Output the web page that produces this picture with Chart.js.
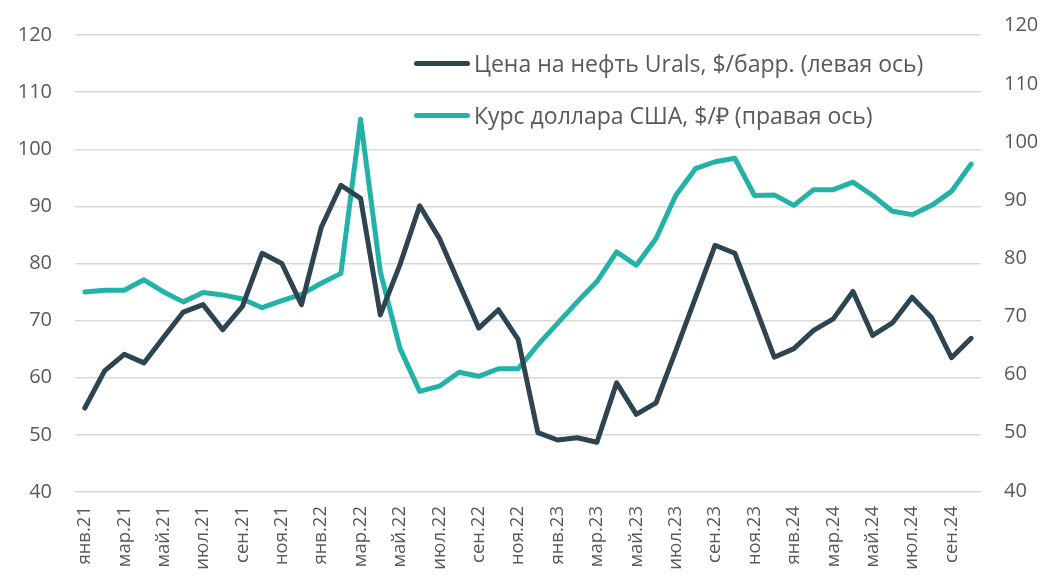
<!DOCTYPE html>
<html lang="ru">
<head>
<meta charset="utf-8">
<script src="https://cdn.jsdelivr.net/npm/chart.js@4.4.1/dist/chart.umd.min.js"></script>
<style>
    body { margin: 0; background: #fff; }
    #wrap { position: relative; width: 1044px; height: 579px; }
    .legend { position: absolute; left: 414px; font-family: "Open Sans", "Liberation Sans", sans-serif; font-size: 23px; color: #595959; display: flex; align-items: center; white-space: nowrap; line-height: 30px; }
    .legend span.sw { display: inline-block; width: 56px; height: 5px; border-radius: 3px; margin-right: 4px; }
</style>
</head>
<body>
<div id="wrap">
    <canvas id="chart" width="1044" height="579"></canvas>
    <div class="legend" style="top: 48px;"><span class="sw" style="background:#2E4450"></span>Цена на нефть Urals, $/барр. (левая ось)</div>
    <div class="legend" style="top: 100px;"><span class="sw" style="background:#22B2A8"></span>Курс доллара США, $/₽ (правая ось)</div>
</div>
<script>
// Месяцы: янв.21 - окт.24
const months = [
    'янв.21','фев.21','мар.21','апр.21','май.21','июн.21','июл.21','авг.21','сен.21','окт.21','ноя.21','дек.21',
    'янв.22','фев.22','мар.22','апр.22','май.22','июн.22','июл.22','авг.22','сен.22','окт.22','ноя.22','дек.22',
    'янв.23','фев.23','мар.23','апр.23','май.23','июн.23','июл.23','авг.23','сен.23','окт.23','ноя.23','дек.23',
    'янв.24','фев.24','мар.24','апр.24','май.24','июн.24','июл.24','авг.24','сен.24','окт.24'
];

// Цена на нефть Urals, $/барр.
const urals = [
    54.7, 61.2, 64.1, 62.6, 67.1, 71.5, 72.8, 68.4, 72.5, 81.8, 80.0, 72.8,
    86.3, 93.7, 91.4, 71.0, 79.8, 90.1, 84.4, 76.5, 68.7, 71.9, 66.7, 50.4,
    49.1, 49.5, 48.7, 59.1, 53.6, 55.6, 64.7, 74.0, 83.2, 81.8, 72.8, 63.6,
    65.1, 68.3, 70.3, 75.1, 67.4, 69.6, 74.1, 70.5, 63.5, 66.9
];

// Курс доллара США, руб.
const usdRub = [
    74.2, 74.5, 74.5, 76.3, 74.2, 72.5, 74.1, 73.7, 73.0, 71.5, 72.7, 73.8,
    75.7, 77.4, 103.9, 77.7, 64.5, 57.1, 58.0, 60.4, 59.7, 61.0, 61.0, 65.1,
    68.8, 72.5, 76.0, 81.1, 78.8, 83.4, 90.8, 95.4, 96.6, 97.2, 90.8, 90.9,
    89.1, 91.8, 91.8, 93.1, 90.8, 88.1, 87.5, 89.1, 91.5, 96.2
];

const rightTicks = [40, 50, 60, 70, 80, 90, 100, 110, 120];

const tickFont = { family: '"Open Sans", "Liberation Sans", sans-serif', size: 20 };

const ctx = document.getElementById('chart').getContext('2d');
new Chart(ctx, {
    type: 'line',
    data: {
        labels: months,
        datasets: [
            {
                label: 'Цена на нефть Urals, $/барр. (левая ось)',
                data: urals,
                yAxisID: 'y',
                borderColor: '#2E4450',
                borderWidth: 5,
                borderJoinStyle: 'round',
                borderCapStyle: 'round',
                pointRadius: 0,
                tension: 0
            },
            {
                label: 'Курс доллара США, $/₽ (правая ось)',
                data: usdRub,
                yAxisID: 'y1',
                borderColor: '#22B2A8',
                borderWidth: 5,
                borderJoinStyle: 'round',
                borderCapStyle: 'round',
                pointRadius: 0,
                tension: 0
            }
        ]
    },
    options: {
        responsive: false,
        animation: false,
        layout: { padding: { top: 32, left: 0, right: 0, bottom: 0 } },
        plugins: {
            legend: { display: false },
            tooltip: { enabled: false }
        },
        scales: {
            x: {
                offset: true,
                grid: { display: false },
                border: { display: false },
                ticks: {
                    autoSkip: false,
                    minRotation: 90,
                    maxRotation: 90,
                    padding: 6,
                    color: '#595959',
                    font: { family: '"Open Sans", "Liberation Sans", sans-serif', size: 18.5 },
                    callback: function(value, index) {
                        return index % 2 === 0 ? months[index] : '';
                    }
                },
                afterFit: function(scale) { scale.height = 87; }
            },
            y: {
                position: 'left',
                min: 40,
                max: 120,
                grid: { color: '#D9D9D9', lineWidth: 1.5, drawTicks: false },
                border: { display: false },
                ticks: { stepSize: 10, padding: 23, color: '#595959', font: tickFont },
                afterFit: function(scale) { scale.width = 75; }
            },
            y1: {
                position: 'right',
                min: 39.8,
                max: 118.4,
                grid: { display: false, drawTicks: false },
                border: { display: false },
                ticks: { padding: 23, color: '#595959', font: tickFont },
                afterBuildTicks: function(scale) {
                    scale.ticks = rightTicks.map(v => ({ value: v }));
                },
                afterFit: function(scale) { scale.width = 63; }
            }
        }
    }
});
</script>
</body>
</html>
